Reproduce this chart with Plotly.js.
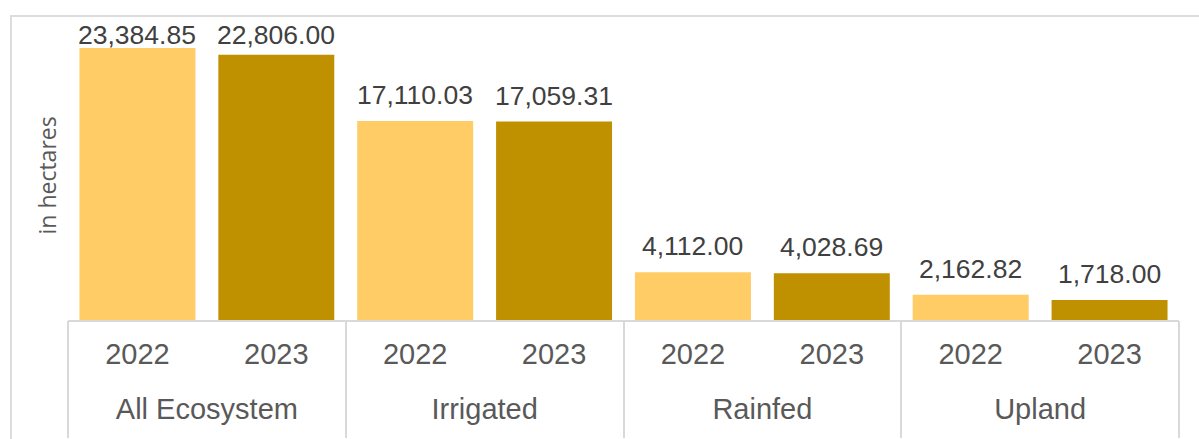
<!DOCTYPE html>
<html>
<head>
<meta charset="utf-8">
<script src="https://cdn.plot.ly/plotly-3.0.1.min.js"></script>
<style>
  html, body { margin: 0; padding: 0; background: #fff; overflow: hidden; }
  #wrap { position: relative; width: 1199px; height: 439px; }
  #chart { position: absolute; left: 0; top: 0; width: 1199px; height: 439px; }
  #frame { position: absolute; left: 10px; top: 15px; width: 1300px; height: 600px;
           border: 2px solid #DDDDDD; box-sizing: border-box; pointer-events: none; }
</style>
</head>
<body>
<div id="wrap">
  <div id="frame"></div>
  <div id="chart"></div>
</div>
<script>
const groups = ["All Ecosystem", "All Ecosystem", "Irrigated", "Irrigated", "Rainfed", "Rainfed", "Upland", "Upland"];
const years = ["2022", "2023", "2022", "2023", "2022", "2023", "2022", "2023"];
const values = [23384.85, 22806.00, 17110.03, 17059.31, 4112.00, 4028.69, 2162.82, 1718.00];
const groupNames = ["All Ecosystem", "Irrigated", "Rainfed", "Upland"];
const yearColors = { "2022": "#FFCC66", "2023": "#BF9000" };

const FONT = "Liberation Sans, Arial, sans-serif";
const fmt = v => v.toLocaleString("en-US", { minimumFractionDigits: 2, maximumFractionDigits: 2 });
const keys = groups.map((g, i) => g + " " + years[i]);

const W = 1199, H = 439;
const margin = { l: 68, r: 20, t: 17, b: 119 };
const yMax = 26050;
const plotH = H - margin.t - margin.b;

// Excel-like label placement: label sits a fixed gap above its bar,
// but is kept inside the plot area when the bar is too tall.
const LABEL_GAP = 9;
const LABEL_ROOM = 43;
const annotations = keys.map((k, i) => {
  const barTopPx = plotH * (1 - values[i] / yMax);
  const base = {
    text: fmt(values[i]), showarrow: false, xref: "x", x: k, xanchor: "center",
    font: { family: FONT, size: 26.5, color: "#404040" }
  };
  if (barTopPx < LABEL_ROOM) {
    return Object.assign(base, { yref: "paper", y: 1, yanchor: "top", yshift: -1 });
  }
  return Object.assign(base, { yref: "y", y: values[i], yanchor: "bottom", yshift: LABEL_GAP });
});

// y-axis title, centred a little below the middle of the plot as in the source
annotations.push({
  text: "in hectares", showarrow: false, textangle: -90,
  xref: "paper", x: 0, xanchor: "right", xshift: -4,
  yref: "paper", y: 0.5, yanchor: "middle", yshift: -7,
  font: { family: "Open Sans, sans-serif", size: 23, color: "#595959" }
});

const bars = {
  type: "bar",
  x: keys,
  y: values,
  marker: { color: years.map(y => yearColors[y]), line: { width: 0 } },
  hoverinfo: "skip"
};

const groupAxisTrace = {
  type: "scatter", mode: "none", xaxis: "x2", yaxis: "y",
  x: groupNames, y: groupNames.map(() => null), hoverinfo: "skip", showlegend: false
};

const layout = {
  width: W,
  height: H,
  margin: margin,
  paper_bgcolor: "rgba(0,0,0,0)",
  plot_bgcolor: "rgba(0,0,0,0)",
  bargap: 0.165,
  showlegend: false,
  font: { family: FONT, color: "#595959" },
  annotations: annotations,
  xaxis: {
    type: "category",
    range: [-0.5, keys.length - 0.5],
    tickvals: keys,
    ticktext: years,
    showline: true,
    linecolor: "#D9D9D9",
    linewidth: 2,
    ticks: "",
    showgrid: false,
    ticklabelstandoff: 7,
    tickfont: { family: FONT, size: 29, color: "#595959" }
  },
  xaxis2: {
    type: "category",
    overlaying: "x",
    anchor: "y",
    side: "bottom",
    categoryorder: "array",
    categoryarray: groupNames,
    range: [-0.5, groupNames.length - 0.5],
    tickson: "boundaries",
    ticks: "outside",
    ticklen: 117,
    tickwidth: 2,
    tickcolor: "#D9D9D9",
    showline: false,
    showgrid: false,
    ticklabelstandoff: 69,
    tickfont: { family: FONT, size: 29, color: "#595959" }
  },
  yaxis: {
    range: [0, yMax],
    showticklabels: false,
    showgrid: false,
    zeroline: false,
    showline: false,
    ticks: ""
  }
};

Plotly.newPlot("chart", [bars, groupAxisTrace], layout, { displayModeBar: false, staticPlot: true });
</script>
</body>
</html>
